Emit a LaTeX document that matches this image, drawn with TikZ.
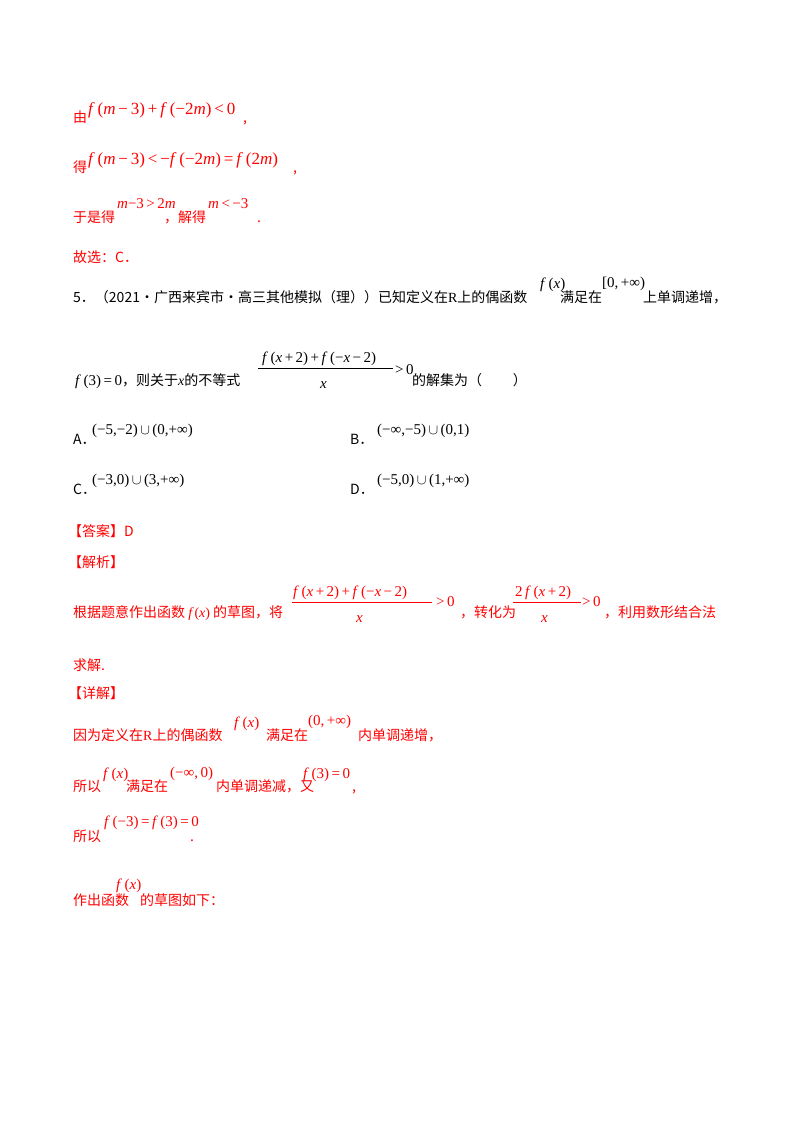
\documentclass[tikz,border=0pt]{standalone}
\usepackage{fontspec}
\setmainfont{Liberation Serif}
\newfontfamily\cjk{Noto Sans CJK SC}
\newcommand\vv[1]{\textit{#1}}
\newcommand\mm{−}
\begin{document}
\begin{tikzpicture}[x=1pt,y=-1pt,
  t/.style={anchor=base west,inner sep=0pt,font=\cjk\fontsize{14}{14}\selectfont},
  m/.style={anchor=base west,inner sep=0pt,font=\fontsize{17}{17}\selectfont},
  ms/.style={anchor=base west,inner sep=0pt,font=\fontsize{15}{15}\selectfont},
  r/.style={text=red}]
\useasboundingbox (0,0) rectangle (800,1132);
\node[t,r] (a1) at (73,122) {由};
\node[m,r] (a2) at (88,114) {\vv{f}\,(\vv{m}\,\mm\,3)\,+\,\vv{f}\,(\mm2\vv{m})\,<\,0};
\node[t,r] (a3) at (243,122) {,};
\node[t,r] (b1) at (73,172) {得};
\node[m,r] (b2) at (88,164) {\vv{f}\,(\vv{m}\,\mm\,3)\,<\,\mm\vv{f}\,(\mm2\vv{m})\,=\,\vv{f}\,(2\vv{m})};
\node[t,r] (b3) at (293,172) {,};
\node[t,r] (c1) at (73,222) {于是得};
\node[ms,r] (c2) at (117,208) {\vv{m}\mm3\,>\,2\vv{m}};
\node[t,r] (c3) at (164,222) {，解得};
\node[ms,r] (c4) at (208,208) {\vv{m}\,<\,\mm3};
\node[t,r] (c5) at (257,222) {.};
\node[t,r] (d1) at (73,262) {故选：C．};
\node[t] (q1) at (73,302) {5．（2021·广西来宾市·高三其他模拟（理））已知定义在{\rmfamily R}上的偶函数};
\node[ms] (q2) at (540,288) {\vv{f}\,(\vv{x})};
\node[t] (q3) at (560,302) {满足在};
\node[ms] (q4) at (602,287) {[0,\,+∞)};
\node[t] (q5) at (643,302) {上单调递增，};
\node[ms] (e1) at (75,385) {\vv{f}\,(3)\,=\,0};
\node[t] (e2) at (122,385) {，则关于{\rmfamily\itshape x}的不等式};
\node[ms] (e3) at (262,362) {\vv{f}\,(\vv{x}\,+\,2)\,+\,\vv{f}\,(\mm\vv{x}\,\mm\,2)};
\draw[line width=0.6pt] (258,368) -- (393,368);
\node[ms] (e4) at (320,388) {\vv{x}};
\node[ms] (e5) at (395,374) {>\,0};
\node[t] (e6) at (412,385) {的解集为（\hspace{2.2em}）};
\node[t] (oA) at (73,444) {A．};
\node[ms] (oA2) at (92,434) {(\mm5,\mm2)\,$\cup$\,(0,+∞)};
\node[t] (oB) at (350,444) {B．};
\node[ms] (oB2) at (377,434) {(\mm∞,\mm5)\,$\cup$\,(0,1)};
\node[t] (oC) at (73,494) {C．};
\node[ms] (oC2) at (92,484) {(\mm3,0)\,$\cup$\,(3,+∞)};
\node[t] (oD) at (350,494) {D．};
\node[ms] (oD2) at (377,484) {(\mm5,0)\,$\cup$\,(1,+∞)};
\node[t,r] (h1) at (68,536) {【答案】D};
\node[t,r] (h2) at (68,567) {【解析】};
\node[t,r] (f1) at (73,617) {根据题意作出函数 {\rmfamily\itshape f\,}{\rmfamily(}{\rmfamily\itshape x}{\rmfamily)} 的草图，将};
\node[ms,r] (f2) at (293,596) {\vv{f}\,(\vv{x}\,+\,2)\,+\,\vv{f}\,(\mm\vv{x}\,\mm\,2)};
\draw[red,line width=0.6pt] (292,602) -- (432,602);
\node[ms,r] (f3) at (356,622) {\vv{x}};
\node[ms,r] (f4) at (436,606) {>\,0};
\node[t,r] (f5) at (460,617) {，转化为};
\node[ms,r] (f6) at (515,596) {2\,\vv{f}\,(\vv{x}\,+\,2)};
\draw[red,line width=0.6pt] (513,602) -- (581,602);
\node[ms,r] (f7) at (541,622) {\vv{x}};
\node[ms,r] (f8) at (582,606) {>\,0};
\node[t,r] (f9) at (604,617) {，利用数形结合法};
\node[t,r] (g1) at (73,670) {求解.};
\node[t,r] (h3) at (68,698) {【详解】};
\node[t,r] (i1) at (73,740) {因为定义在{\rmfamily R}上的偶函数};
\node[ms,r] (i2) at (234,727) {\vv{f}\,(\vv{x})};
\node[t,r] (i3) at (266,740) {满足在};
\node[ms,r] (i4) at (308,725) {(0,\,+∞)};
\node[t,r] (i5) at (358,740) {内单调递增，};
\node[t,r] (j1) at (73,791) {所以};
\node[ms,r] (j2) at (103,778) {\vv{f}\,(\vv{x})};
\node[t,r] (j3) at (126,791) {满足在};
\node[ms,r] (j4) at (170,777) {(\mm∞,\,0)};
\node[t,r] (j5) at (216,791) {内单调递减，又};
\node[ms,r] (j6) at (303,778) {\vv{f}\,(3)\,=\,0};
\node[t,r] (j7) at (352,791) {,};
\node[t,r] (k1) at (73,841) {所以};
\node[ms,r] (k2) at (104,826) {\vv{f}\,(\mm3)\,=\,\vv{f}\,(3)\,=\,0};
\node[t,r] (k3) at (190,841) {.};
\node[t,r] (l1) at (73,905) {作出函数};
\node[ms,r] (l2) at (116,889) {\vv{f}\,(\vv{x})};
\node[t,r] (l3) at (140,905) {的草图如下：};
\end{tikzpicture}
\end{document}
